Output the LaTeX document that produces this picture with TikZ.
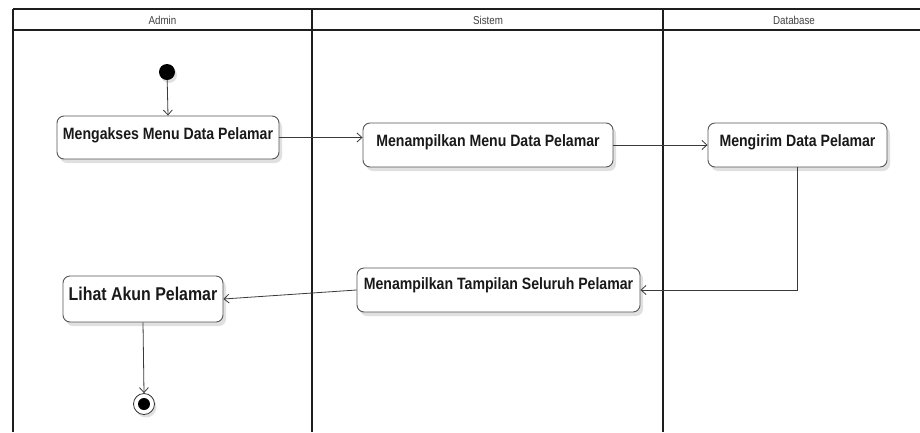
\documentclass[tikz,border=0pt]{standalone}
\usepackage{fontspec}
\setmainfont{Liberation Sans}
\newfontfamily\actfont[FakeStretch=0.86]{Liberation Sans}
\newfontfamily\lanefont[FakeStretch=0.85]{Liberation Sans}
\usetikzlibrary{arrows.meta,shadows}
\definecolor{lanecol}{HTML}{1E1E1E}
\definecolor{flowcol}{HTML}{3A3A3A}
\definecolor{boxline}{HTML}{555555}
\tikzset{
  x=1pt, y=-1pt,
  lane/.style={draw=lanecol, line width=1.8pt},
  lanetitle/.style={font=\lanefont\fontsize{11.5}{13}\selectfont, text=black!75},
  activity/.style={draw=boxline, line width=0.9pt, rounded corners=7pt, fill=white,
    font=\actfont\bfseries\fontsize{16.4}{18}\selectfont, text=black!90,
    inner xsep=0pt, inner ysep=0pt, text height=23pt,
    drop shadow={shadow xshift=3pt, shadow yshift=-4pt, fill=black!12, opacity=1}},
  bigtext/.style={font=\actfont\bfseries\fontsize{18.5}{20}\selectfont},
  flow/.style={draw=flowcol, line width=0.8pt, -{Straight Barb[length=5pt,width=9pt]}},
  startdot/.style={circle, fill=black, minimum size=16pt, inner sep=0pt,
    drop shadow={shadow xshift=2pt, shadow yshift=-3pt, fill=black!12, opacity=1}},
  enddot/.style={circle, draw=black!80, line width=0.8pt, fill=white, minimum size=21pt, inner sep=0pt,
    drop shadow={shadow xshift=2pt, shadow yshift=-3pt, fill=black!12, opacity=1}},
}
\begin{document}
\begin{tikzpicture}
\useasboundingbox (0,0) rectangle (920,432);

% swimlane frame
\draw[lane] (13,9) -- (920,9);
\draw[lane] (13,30) -- (920,30);
\draw[lane] (13,9) -- (13,432);
\draw[lane] (312,9) -- (312,432);
\draw[lane] (663,9) -- (663,432);
\node[lanetitle] (tadmin) at (162.5,20) {Admin};
\node[lanetitle] (tsistem) at (488,20) {Sistem};
\node[lanetitle] (tdb) at (794,20) {Database};

% activities
\node[startdot] (start) at (167,72) {};
\node[activity, minimum width=222pt, text depth=20pt] (akses) at (168,137.5) {Mengakses Menu Data Pelamar};
\node[activity, minimum width=250pt, text depth=21pt] (menu) at (488,145) {Menampilkan Menu Data Pelamar};
\node[activity, minimum width=179pt, text depth=21pt] (kirim) at (797.5,145) {Mengirim Data Pelamar};
\node[activity, minimum width=283pt, text height=21pt, text depth=23pt] (tampil) at (498.5,290) {Menampilkan Tampilan Seluruh Pelamar};
\node[activity, bigtext, minimum width=160pt, text height=24pt, text depth=22pt] (lihat) at (143,299) {Lihat Akun Pelamar};
\node[enddot] (finish) at (144,404) {};
\node[circle, fill=black, minimum size=12pt, inner sep=0pt] (finishcore) at (finish.center) {};

% control flow
\draw[flow] (start) -- (akses.north);
\draw[flow] (akses.east) -- (akses.east -| menu.west);
\draw[flow] (menu.east) -- (kirim.west);
\draw[flow] (kirim.south) |- (tampil.east);
\draw[flow] (tampil.west) -- (lihat.east);
\draw[flow] (lihat.south) -- (finish.north);
\end{tikzpicture}
\end{document}
